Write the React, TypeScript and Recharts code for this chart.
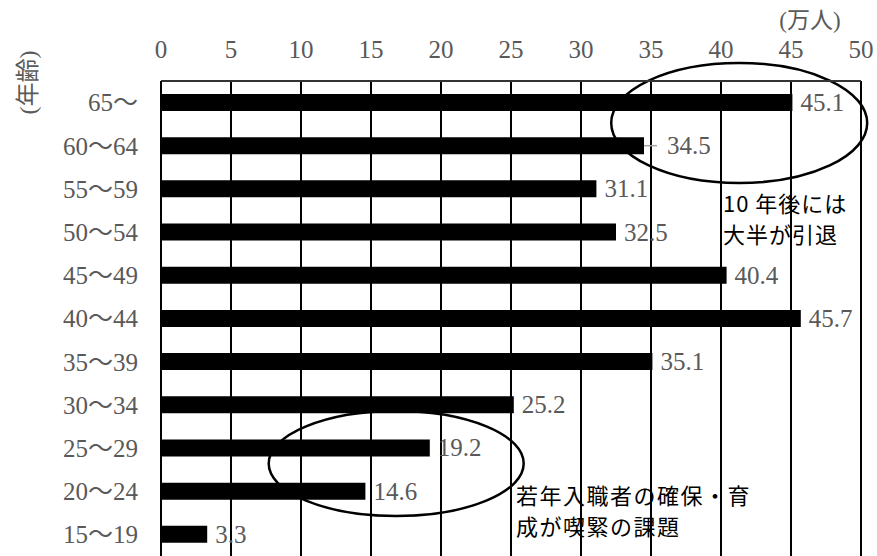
import React from 'react';
import { BarChart, Bar, XAxis, YAxis, CartesianGrid, LabelList, ReferenceDot } from 'recharts';

const ageGroups = ['65～', '60～64', '55～59', '50～54', '45～49', '40～44', '35～39', '30～34', '25～29', '20～24', '15～19'];
const workers = [45.1, 34.5, 31.1, 32.5, 40.4, 45.7, 35.1, 25.2, 19.2, 14.6, 3.3];
const xTicks = [0, 5, 10, 15, 20, 25, 30, 35, 40, 45, 50];

const data = ageGroups.map((age, i) => ({ age, value: workers[i] }));

const SERIF = '"Liberation Serif", "Noto Sans CJK JP", serif';
const SANS = '"Noto Sans CJK JP", "Noto Sans", sans-serif';
const GRAY = '#595959';
const FS = 25;

const renderValueLabel = (props: any) => {
  const { x, y, width, height, value, index } = props;
  const end = Number(x) + Number(width);
  const cy = Number(y) + Number(height) / 2;
  const isLeader = ageGroups[index] === '60～64';
  const tx = end + (isLeader ? 23 : 8);
  return (
    <g>
      {isLeader && <line x1={end} x2={end + 13} y1={cy} y2={cy} stroke="#a6a6a6" strokeWidth={1.5} />}
      <text x={tx} y={cy} dy="0.34em" fill={GRAY} fontSize={FS} fontFamily={SERIF}>
        {value}
      </text>
    </g>
  );
};

const ellipseShape = (dy: number, rx: number, ry: number) => (p: any) => (
  <ellipse cx={p.cx} cy={p.cy + dy} rx={rx} ry={ry} fill="none" stroke="#000" strokeWidth={2.5} />
);

export default function App() {
  return (
    <div style={{ position: 'absolute', left: 0, top: 0, width: 877, height: 556, overflow: 'hidden', background: '#fff' }}>
      <BarChart
        width={877}
        height={556}
        data={data}
        layout="vertical"
        margin={{ top: 0, right: 16, bottom: 0, left: 0 }}
      >
        <CartesianGrid horizontal={false} vertical={true} stroke="#000" strokeWidth={2} />
        <XAxis
          type="number"
          orientation="top"
          domain={[0, 50]}
          ticks={xTicks}
          height={81}
          tickLine={false}
          tickSize={6}
          tickMargin={17}
          axisLine={{ stroke: '#333', strokeWidth: 2 }}
          tick={{ fill: GRAY, fontSize: FS, fontFamily: SERIF }}
          interval={0}
        />
        <YAxis
          type="category"
          dataKey="age"
          width={161}
          tickLine={false}
          tickSize={6}
          tickMargin={17}
          axisLine={{ stroke: '#000', strokeWidth: 2 }}
          tick={{ fill: GRAY, fontSize: FS, fontFamily: SERIF }}
          interval={0}
        />
        <ReferenceDot x={41.3} y="65～" ifOverflow="visible" zIndex={0} shape={ellipseShape(20.4, 128, 60)} />
        <ReferenceDot x={16.8} y="25～29" ifOverflow="visible" zIndex={0} shape={ellipseShape(15.5, 127.5, 52.5)} />
        <Bar dataKey="value" fill="#000" barSize={17} isAnimationActive={false}>
          <LabelList dataKey="value" content={renderValueLabel} />
        </Bar>
      </BarChart>
      <svg width={877} height={556} style={{ position: 'absolute', left: 0, top: 0, pointerEvents: 'none' }}>
        <text x={810} y={28} textAnchor="middle" fill={GRAY} fontSize={23} fontFamily={SERIF}>(万人)</text>
        <text transform="translate(27.5,82.5) rotate(-90)" textAnchor="middle" dy="0.35em" fill={GRAY} fontSize={24} fontFamily={SERIF}>(年齢)</text>
        <text x={723} y={212} fill="#000" fontSize={22} fontFamily={SANS} letterSpacing={1}>10 年後には</text>
        <text x={723} y={243} fill="#000" fontSize={22} fontFamily={SANS} letterSpacing={1}>大半が引退</text>
        <text x={516} y={504} fill="#000" fontSize={22} fontFamily={SANS} letterSpacing={1.5}>若年入職者の確保・育</text>
        <text x={516} y={535} fill="#000" fontSize={22} fontFamily={SANS} letterSpacing={1.5}>成が喫緊の課題</text>
      </svg>
    </div>
  );
}
